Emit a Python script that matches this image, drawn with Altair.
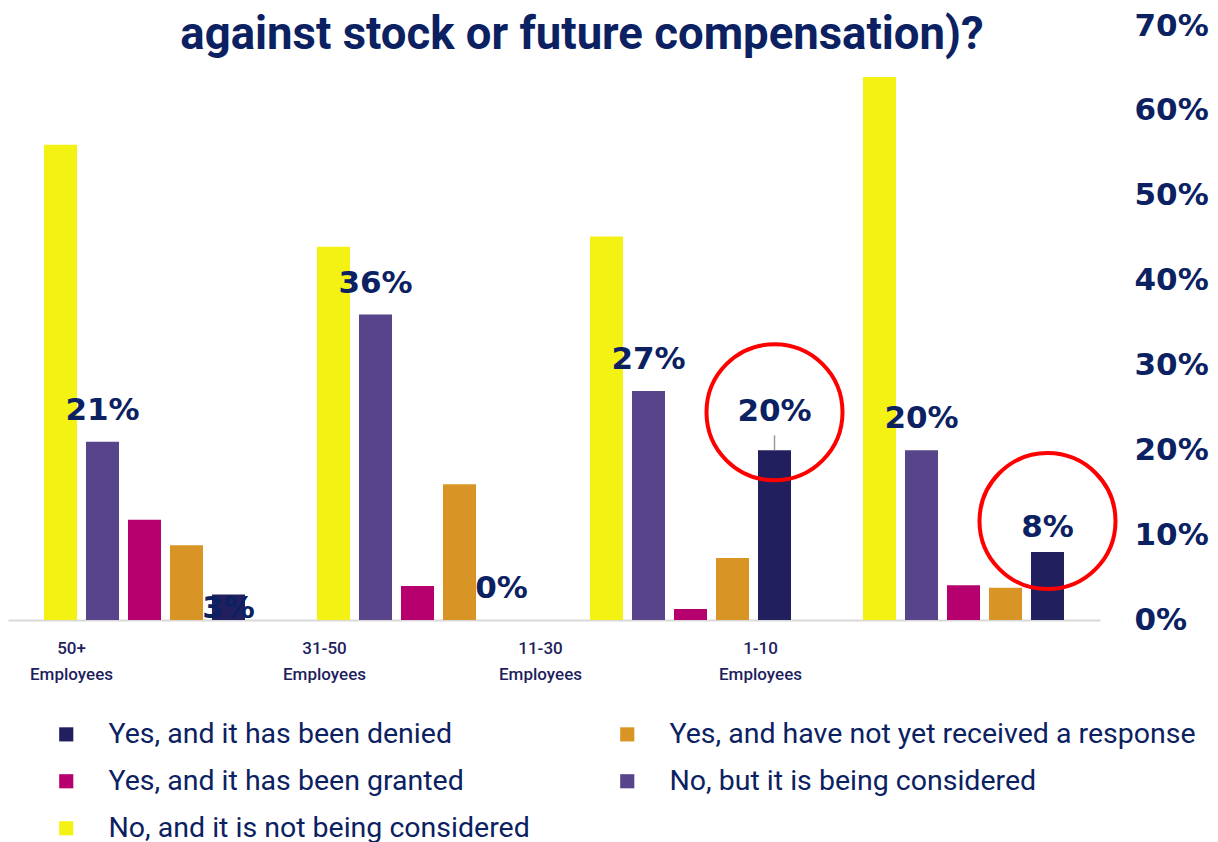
import altair as alt
import pandas as pd

groups = ["50+", "31-50", "11-30", "1-10"]
bar_order = [
    "No, and it is not being considered",
    "No, but it is being considered",
    "Yes, and it has been granted",
    "Yes, and have not yet received a response",
    "Yes, and it has been denied",
]
# legend is filled column by column (3 rows, 2 columns)
legend_order = [
    "Yes, and it has been denied",
    "Yes, and it has been granted",
    "No, and it is not being considered",
    "Yes, and have not yet received a response",
    "No, but it is being considered",
]
legend_colors = ["#221f5f", "#b5006e", "#f4f213", "#d89424", "#58448a"]

not_considered = [56, 44, 45.2, 64]
being_considered = [21, 36, 27, 20]
granted = [11.8, 4, 1.3, 4.1]
no_response = [8.8, 16, 7.3, 3.8]
denied = [3, 0, 20, 8]

series_values = {
    bar_order[0]: not_considered,
    bar_order[1]: being_considered,
    bar_order[2]: granted,
    bar_order[3]: no_response,
    bar_order[4]: denied,
}
rows = []
for s, vals in series_values.items():
    for g, v in zip(groups, vals):
        rows.append({"group": g, "series": s, "value": v, "label": f"{round(v)}%"})
df = pd.DataFrame(rows)

NAVY = "#0b2161"
PCT_FONT = "DejaVu Sans"
COND_FONT = "Roboto"

x_enc = alt.X(
    "group:N",
    sort=groups,
    scale=alt.Scale(paddingInner=0, paddingOuter=0),
    axis=alt.Axis(
        title=None,
        labelExpr="[datum.label, 'Employees']",
        labelOffset=alt.ExprRef(
            "datum.value === '50+' ? -73 : datum.value === '31-50' ? -93 : datum.value === '11-30' ? -150 : -203"
        ),
        labelAngle=0,
        labelFont=COND_FONT,
        labelFontSize=17,
        labelFontWeight=500,
        labelColor="#1f1f5e",
        labelPadding=20,
        labelLineHeight=26,
        labelBaseline="top",
        ticks=False,
        domainColor="#d9d9d9",
        domainWidth=2,
    ),
)
xoff_enc = alt.XOffset(
    "series:N",
    sort=bar_order,
    scale=alt.Scale(paddingInner=0.214, paddingOuter=0.857),
)
y_enc = alt.Y(
    "value:Q",
    scale=alt.Scale(domain=[0, 70]),
    axis=alt.Axis(
        title=None,
        orient="right",
        values=[0, 10, 20, 30, 40, 50, 60, 70],
        labelExpr="datum.value + '%'",
        labelFont=PCT_FONT,
        labelFontSize=31,
        labelFontWeight="bold",
        labelColor=NAVY,
        labelAlign="left",
        labelPadding=34,
        ticks=False,
        domain=False,
        grid=False,
    ),
)

base = alt.Chart(df)

bars = base.mark_bar().encode(
    x=x_enc,
    xOffset=xoff_enc,
    y=y_enc,
    color=alt.Color(
        "series:N",
        scale=alt.Scale(domain=legend_order, range=legend_colors),
        legend=alt.Legend(
            title=None,
            orient="none",
            legendX=44,
            legendY=694,
            columns=2,
            direction="vertical",
            symbolType="square",
            symbolSize=200,
            symbolStrokeWidth=0,
            labelFont=COND_FONT,
            labelFontSize=28.5,
            labelColor=NAVY,
            labelLimit=600,
            labelOffset=28,
            rowPadding=18,
            columnPadding=83,
        ),
    ),
)

def txt(filter_expr, dy):
    return base.mark_text(
        font=PCT_FONT, fontSize=31, fontWeight="bold", color=NAVY,
        baseline="middle", dy=dy
    ).encode(
        x=alt.X("group:N", sort=groups),
        xOffset=alt.XOffset("series:N", sort=bar_order),
        y="value:Q",
        text="label:N",
    ).transform_filter(filter_expr)

purple_lbl = txt(f"datum.series === '{bar_order[1]}'", -31)
navy_lbl_a = txt(f"datum.series === '{bar_order[4]}' && datum.group === '31-50'", -31)
navy_lbl_b = txt(f"datum.series === '{bar_order[4]}' && datum.group === '50+'", 14)
navy_lbl_c = txt(f"datum.series === '{bar_order[4]}' && datum.group === '11-30'", -38)
navy_lbl_d = txt(f"datum.series === '{bar_order[4]}' && datum.group === '1-10'", -24)

leader = base.mark_rule(color="#9a9a9a", strokeWidth=1.5, y2Offset=-15).encode(
    x=alt.X("group:N", sort=groups),
    xOffset=alt.XOffset("series:N", sort=bar_order),
    y="value:Q",
    y2="value:Q",
).transform_filter(f"datum.series === '{bar_order[4]}' && datum.group === '11-30'")

def ring(group, off):
    return base.mark_point(
        shape="circle", size=18500, filled=False, stroke="#ff0000", strokeWidth=4, opacity=1
    ).encode(
        x=alt.X("group:N", sort=groups),
        xOffset=alt.XOffset("series:N", sort=bar_order),
        y="value:Q",
        yOffset=alt.value(off),
    ).transform_filter(f"datum.series === '{bar_order[4]}' && datum.group === '{group}'")

chart = alt.layer(
    bars, leader, purple_lbl, navy_lbl_a, navy_lbl_b, navy_lbl_c, navy_lbl_d,
    ring("11-30", -38), ring("1-10", -31),
).properties(
    width=1092,
    height=594,
    padding={"left": 0, "top": 2, "right": 0, "bottom": 0},
    title=alt.TitleParams(
        "against stock or future compensation)?",
        font="Roboto",
        fontSize=45.5,
        fontWeight="bold",
        color=NAVY,
        anchor="middle",
        frame="group",
        offset=-48,
        dx=28,
    ),
).configure_view(stroke=None)

chart.save("out.html", embed_options={"renderer": "svg", "actions": False})
